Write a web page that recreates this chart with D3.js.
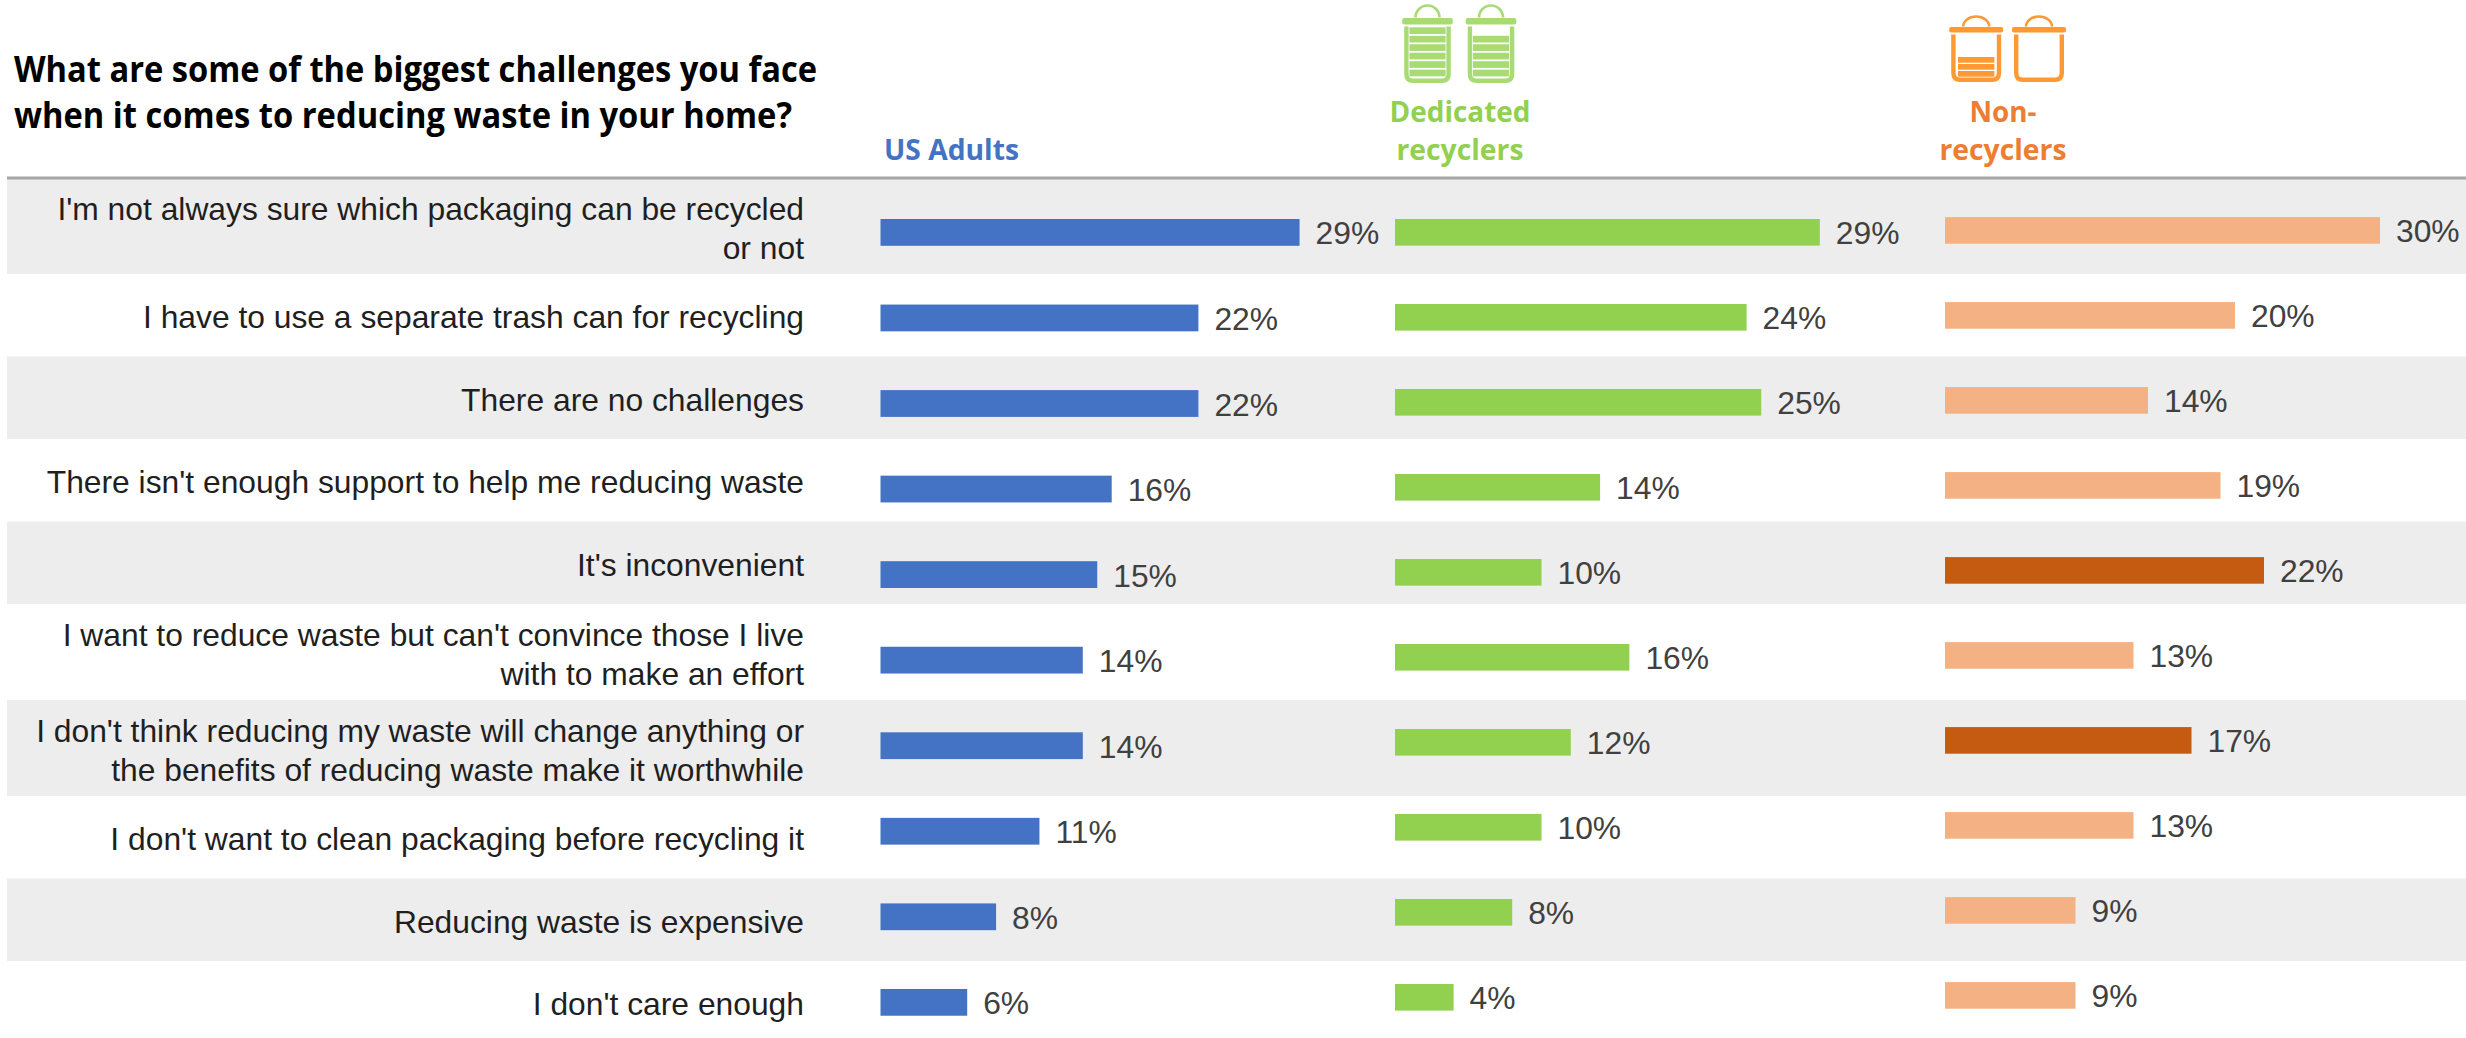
<!DOCTYPE html>
<html><head><meta charset="utf-8">
<script src="https://cdn.jsdelivr.net/npm/d3@7"></script>
<style>
html,body{margin:0;padding:0;background:#fff}
svg{display:block}
text{font-family:"Liberation Sans",Arial,sans-serif}
.head{font-family:"Open Sans","Noto Sans",sans-serif;font-weight:700}
</style></head><body>
<svg id="chart" width="2466" height="1038"></svg>
<script>
// Survey answers, one entry per row; a nested list marks where a label wraps
const categories = [
  ["I'm not always sure which packaging can be recycled", "or not"],
  ["I have to use a separate trash can for recycling"],
  ["There are no challenges"],
  ["There isn't enough support to help me reducing waste"],
  ["It's inconvenient"],
  ["I want to reduce waste but can't convince those I live", "with to make an effort"],
  ["I don't think reducing my waste will change anything or", "the benefits of reducing waste make it worthwhile"],
  ["I don't want to clean packaging before recycling it"],
  ["Reducing waste is expensive"],
  ["I don't care enough"]
];
const usAdults = [29, 22, 22, 16, 15, 14, 14, 11, 8, 6];
const dedicatedRecyclers = [29, 24, 25, 14, 10, 16, 12, 10, 8, 4];
const nonRecyclers = [30, 20, 14, 19, 22, 13, 17, 13, 9, 9];
const nonRecyclerHighlights = [4, 6];
const titleLines = ["What are some of the biggest challenges you face", "when it comes to reducing waste in your home?"];

const svg = d3.select("#chart");
const ROW_TOP = 178, ROW_ONE = 82.5, ROW_TWO = 96;

// Alternating row bands; two-line rows are taller
let cursor = ROW_TOP;
const rows = categories.map((lines, i) => {
  const h = lines.length > 1 ? ROW_TWO : ROW_ONE;
  const r = {i, lines, y: cursor, h};
  cursor += h;
  return r;
});
svg.append("g").selectAll("rect").data(rows.filter(r => r.i % 2 === 0)).join("rect")
  .attr("x", 7).attr("y", d => d.y).attr("width", 2459).attr("height", d => d.h)
  .attr("fill", "#ededed");
svg.append("line").attr("x1", 7).attr("x2", 2466).attr("y1", ROW_TOP).attr("y2", ROW_TOP)
  .attr("stroke", "#a6a6a6").attr("stroke-width", 3);

// Row labels, right aligned against the first panel
const labels = svg.append("g").selectAll("text").data(rows).join("text")
  .attr("text-anchor", "end").attr("font-size", 31.8).attr("fill", "#1f1f1f");
labels.selectAll("tspan").data(d => d.lines.map((t, k) => ({t, k, d}))).join("tspan")
  .attr("x", 804)
  .attr("y", o => o.d.y + o.d.h / 2 + 13 + (o.k - (o.d.lines.length - 1) / 2) * 39)
  .text(o => o.t);

// Title
svg.append("g").selectAll("text").data(titleLines).join("text")
  .attr("class", "head").attr("x", 14).attr("y", (d, i) => 82 + i * 45.5)
  .attr("font-size", 35).attr("fill", "#000").text(d => d)
  .attr("textLength", (d, i) => i === 0 ? 803 : 778).attr("lengthAdjust", "spacingAndGlyphs");

// One small bar chart per audience
const panels = [
  {values: usAdults, x0: 880.5, perPoint: 14.45, top: 232.4, step: 85.55, color: "#4472C4"},
  {values: dedicatedRecyclers, x0: 1395, perPoint: 14.65, top: 232.3, step: 85, color: "#92D050"},
  {values: nonRecyclers, x0: 1945, perPoint: 14.5, top: 230.4, step: 85, color: "#F4B183", highlight: nonRecyclerHighlights, strong: "#C55A11"}
];
panels.forEach(p => {
  const x = d3.scaleLinear().domain([0, 30]).range([p.x0, p.x0 + 30 * p.perPoint]);
  const y = d3.scaleBand().domain(d3.range(categories.length))
    .range([p.top - p.step / 2, p.top - p.step / 2 + p.step * categories.length])
    .paddingInner(0.687).paddingOuter(0.3435);
  const g = svg.append("g");
  g.selectAll("rect").data(p.values).join("rect")
    .attr("x", x(0)).attr("y", (d, i) => y(i))
    .attr("width", d => x(d) - x(0)).attr("height", y.bandwidth())
    .attr("fill", (d, i) => p.highlight && p.highlight.includes(i) ? p.strong : p.color);
  g.selectAll("text").data(p.values).join("text")
    .attr("x", d => x(d) + 16).attr("y", (d, i) => y(i) + y.bandwidth() / 2 + 12)
    .attr("font-size", 31.8).attr("fill", "#404040").text(d => d + "%");
});

// Column headings
const headings = [
  {lines: ["US Adults"], x: 884, anchor: "start", color: "#4472C4", width: [135]},
  {lines: ["Dedicated", "recyclers"], x: 1460, anchor: "middle", color: "#92D050", width: [141, 127]},
  {lines: ["Non-", "recyclers"], x: 2003, anchor: "middle", color: "#ED7D31", width: [67, 127]}
];
headings.forEach(h => {
  const n = h.lines.length;
  svg.append("g").selectAll("text").data(h.lines).join("text")
    .attr("class", "head").attr("x", h.x).attr("y", (d, i) => 160 - (n - 1 - i) * 38)
    .attr("text-anchor", h.anchor).attr("font-size", 29).attr("fill", h.color).text(d => d)
    .attr("textLength", (d, i) => h.width[i]).attr("lengthAdjust", "spacingAndGlyphs");
});

// Waste bin pictograms; stripes show how full each bin is
function bin(o) {
  const {cx, lidY, lidH, handleR, handleH, bottom, w, color, stripes, stripeTop, pitch, stripeH, inset} = o;
  const g = svg.append("g");
  const hw = w / 2, top = lidY + lidH + 2;
  g.append("path").attr("d", `M${cx - handleR},${lidY - 0.5} A${handleR},${handleH} 0 0 1 ${cx + handleR},${lidY - 0.5}`)
    .attr("fill", "none").attr("stroke", color).attr("stroke-width", 2.6);
  g.append("rect").attr("x", cx - hw - 2).attr("y", lidY).attr("width", w + 4).attr("height", lidH)
    .attr("rx", 2).attr("fill", color);
  g.append("path").attr("d", `M${cx - hw + 2.2},${top} V${bottom - 9} Q${cx - hw + 2.2},${bottom - 2.2} ${cx - hw + 9},${bottom - 2.2} H${cx + hw - 9} Q${cx + hw - 2.2},${bottom - 2.2} ${cx + hw - 2.2},${bottom - 9} V${top}`)
    .attr("fill", "none").attr("stroke", color).attr("stroke-width", 4.4);
  d3.range(stripes).forEach(k => {
    g.append("rect").attr("x", cx - hw + inset).attr("width", w - 2 * inset)
      .attr("y", stripeTop + k * pitch).attr("height", stripeH).attr("fill", color);
  });
}
const greenBin = {lidY: 18, lidH: 6.6, handleR: 12, handleH: 12, bottom: 83, w: 46.6, color: "#A9DB74", pitch: 8.47, stripeH: 6.7, inset: 5.2};
const orangeBin = {lidY: 27, lidH: 5.4, handleR: 13, handleH: 10, bottom: 82, w: 50, color: "#FF9933", pitch: 7, stripeH: 5.7, inset: 6.8};
bin({...greenBin, cx: 1427.5, stripes: 6, stripeTop: 27.3});
bin({...greenBin, cx: 1491, stripes: 5, stripeTop: 35.8});
bin({...orangeBin, cx: 1976.2, stripes: 3, stripeTop: 57});
bin({...orangeBin, cx: 2039, stripes: 0, stripeTop: 0});
</script>
</body></html>
